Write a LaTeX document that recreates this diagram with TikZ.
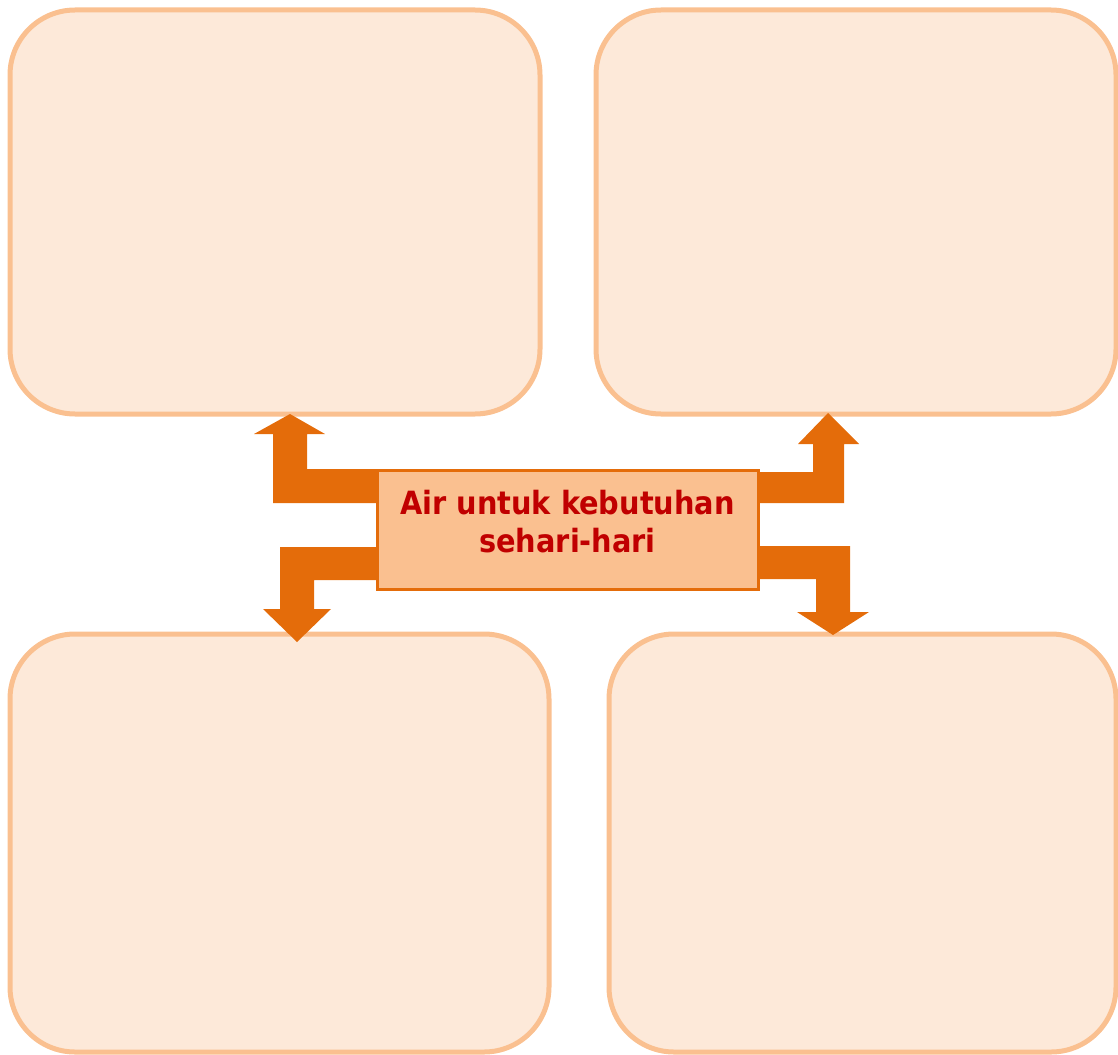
\documentclass[tikz,border=0pt]{standalone}
\usepackage{fontspec}
\setmainfont{DejaVu Sans Condensed}
\definecolor{panelline}{HTML}{FAC090}
\definecolor{panelfill}{HTML}{FDE9D9}
\definecolor{arrowc}{HTML}{E46C0A}
\definecolor{textc}{HTML}{C00000}
\begin{document}
\begin{tikzpicture}[x=1pt,y=-1pt,
  panel/.style={draw=panelline,fill=panelfill,line width=5pt,rounded corners=65pt,inner sep=0pt,outer sep=0pt},
  center/.style={draw=arrowc,fill=panelline,line width=3pt,inner sep=0pt,outer sep=0pt,
     minimum width=381pt,minimum height=119pt},
  centertext/.style={align=center,text=textc,inner sep=0pt,
     font=\fontsize{32}{38}\selectfont\bfseries},
  blockarrow/.style={fill=arrowc,draw=none}]
\useasboundingbox (0,0) rectangle (1118,1054);
\node[panel,minimum width=530pt,minimum height=404pt] (tl) at (275,212) {};
\node[panel,minimum width=520pt,minimum height=404pt] (tr) at (856,212) {};
\node[panel,minimum width=539pt,minimum height=418pt] (bl) at (279.5,843) {};
\node[panel,minimum width=507pt,minimum height=418pt] (br) at (862.5,843) {};
\fill[blockarrow] (390,469) -- (307,469) -- (307,434) -- (325,434) -- (290,414) -- (254,434) -- (273,434) -- (273,503) -- (390,503) -- cycle;
\fill[blockarrow] (390,547) -- (280,547) -- (280,609) -- (263,609) -- (297,642) -- (331,609) -- (314,609) -- (314,580) -- (390,580) -- cycle;
\fill[blockarrow] (745,472) -- (813,472) -- (813,444) -- (798,444) -- (828,413) -- (859,444) -- (844,444) -- (844,503) -- (745,503) -- cycle;
\fill[blockarrow] (745,546) -- (850,546) -- (850,612) -- (869,612) -- (833,635) -- (797,612) -- (816,612) -- (816,579) -- (745,579) -- cycle;
\node[center] (c) at (567.5,529.5) {};
\node[centertext] (ct) at (567.5,522) {Air untuk kebutuhan\\sehari-hari};
\end{tikzpicture}
\end{document}
